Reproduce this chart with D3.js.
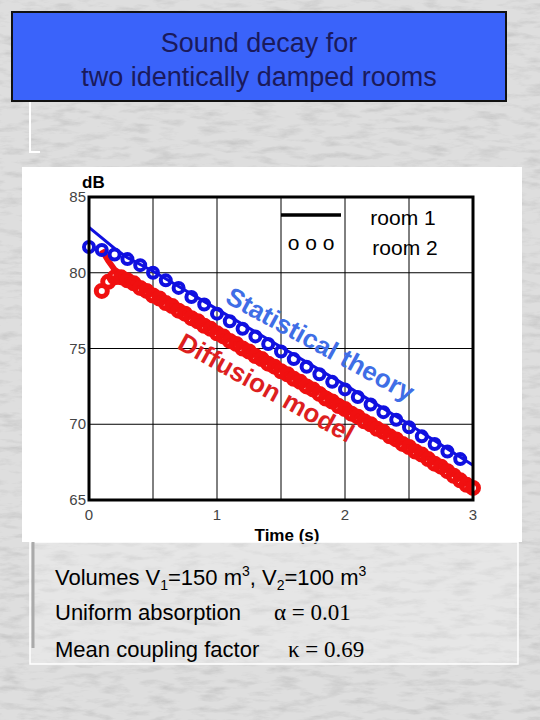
<!DOCTYPE html>
<html><head><meta charset="utf-8">
<script src="https://cdn.jsdelivr.net/npm/d3@7"></script>
<style>body{margin:0;background:#d9d9d9;font-family:Arial,"Liberation Sans",sans-serif}</style>
</head><body><div id="chart"></div>
<script>
// room 1 statistical (blue line), room 2 statistical (blue circles)
const blueLineT = [0, 0.1, 0.2, 0.3, 0.5, 1.0, 1.5, 2.0, 2.5, 3.0];
const blueLineDb = [83.0, 82.3, 81.6, 81.0, 80.1, 77.6, 75.1, 72.6, 70.0, 67.3];
const blueDotT = [0,0.1,0.2,0.3,0.4,0.5,0.6,0.7,0.8,0.9,1.0,1.1,1.2,1.3,1.4,1.5,1.6,1.7,1.8,1.9,2.0,2.1,2.2,2.3,2.4,2.5,2.6,2.7,2.8,2.9];
const blueDotDb = [81.7,81.5,81.2,80.9,80.5,80.0,79.5,79.0,78.4,77.9,77.3,76.8,76.3,75.8,75.3,74.8,74.3,73.8,73.3,72.8,72.3,71.8,71.3,70.8,70.3,69.8,69.2,68.7,68.2,67.7];
// room 1 diffusion (red line), room 2 diffusion (red circles)
const redLineT = [0.1, 0.15, 0.2, 0.3, 0.5, 1.0, 1.5, 2.0, 2.5, 3.0];
const redLineDb = [81.5, 80.8, 80.2, 79.6, 78.7, 76.3, 73.8, 71.3, 68.6, 65.9];
const redDotT = [0.1,0.15,0.2,0.25,0.3,0.35,0.4,0.45,0.5,0.55,0.6,0.65,0.7,0.75,0.8,0.85,0.9,0.95,1.0,1.05,1.1,1.15,1.2,1.25,1.3,1.35,1.4,1.45,1.5,1.55,1.6,1.65,1.7,1.75,1.8,1.85,1.9,1.95,2.0,2.05,2.1,2.15,2.2,2.25,2.3,2.35,2.4,2.45,2.5,2.55,2.6,2.65,2.7,2.75,2.8,2.85,2.9,2.95,3.0];
const redDotDb = [78.8,79.4,79.7,79.7,79.5,79.3,79.0,78.8,78.5,78.3,78.0,77.8,77.5,77.3,77.0,76.8,76.5,76.3,76.0,75.8,75.5,75.3,75.0,74.8,74.5,74.3,74.0,73.8,73.5,73.3,73.0,72.8,72.5,72.3,72.0,71.7,71.5,71.2,71.0,70.7,70.5,70.2,70.0,69.7,69.5,69.2,69.0,68.7,68.5,68.2,68.0,67.7,67.4,67.2,66.9,66.6,66.3,66.0,65.8];
const xTicks = [0, 1, 2, 3];
const yTicks = [65, 70, 75, 80, 85];

const W = 540, H = 720;
const svg = d3.select('#chart').append('svg').attr('width', W).attr('height', H);

// marble-ish background
const defs = svg.append('defs');
const f = defs.append('filter').attr('id', 'marble');
f.append('feTurbulence').attr('type', 'fractalNoise').attr('baseFrequency', '0.04 0.15').attr('numOctaves', 4).attr('seed', 3);
f.append('feColorMatrix').attr('values', '0 0 0 0 0.5  0 0 0 0 0.5  0 0 0 0 0.5  0 0 0 -2 1.1');
svg.append('rect').attr('width', W).attr('height', H).attr('fill', '#dedede');
svg.append('rect').attr('width', W).attr('height', H).attr('filter', 'url(#marble)').attr('opacity', 0.7);

// left decoration
svg.append('path').attr('d', 'M30,101 V152 H40').attr('fill', 'none').attr('stroke', '#fff').attr('stroke-width', 2);

// title
svg.append('rect').attr('x', 12).attr('y', 12).attr('width', 494).attr('height', 89)
  .attr('fill', '#3a63fa').attr('stroke', '#111').attr('stroke-width', 2);
svg.append('text').attr('x', 259).attr('y', 52).attr('text-anchor', 'middle')
  .attr('font-size', 27).attr('fill', '#1a1a5c').text('Sound decay for');
svg.append('text').attr('x', 259).attr('y', 86).attr('text-anchor', 'middle')
  .attr('font-size', 27).attr('fill', '#1a1a5c').text('two identically damped rooms');

// chart panel
svg.append('rect').attr('x', 22).attr('y', 167).attr('width', 500).attr('height', 375).attr('fill', '#fff');

const x = d3.scaleLinear().domain([0, 3]).range([89, 473]);
const y = d3.scaleLinear().domain([65, 85]).range([500, 197]);

const g = svg.append('g');
// grid
g.selectAll('.vg').data(d3.range(0.5, 3, 0.5)).enter().append('line')
  .attr('x1', d => x(d)).attr('x2', d => x(d)).attr('y1', y(65)).attr('y2', y(85))
  .attr('stroke', '#000').attr('stroke-width', 1);
g.selectAll('.hg').data([70, 75, 80]).enter().append('line')
  .attr('y1', d => y(d)).attr('y2', d => y(d)).attr('x1', x(0)).attr('x2', x(3))
  .attr('stroke', '#000').attr('stroke-width', 1);

const line = d3.line().x(d => x(d[0])).y(d => y(d[1]));

// red (diffusion)
g.append('path').datum(d3.zip(redLineT, redLineDb)).attr('d', line)
  .attr('fill', 'none').attr('stroke', '#f01010').attr('stroke-width', 6);
g.selectAll('.rd').data(d3.zip(redDotT, redDotDb)).enter().append('circle')
  .attr('cx', d => x(d[0])).attr('cy', d => y(d[1])).attr('r', 5.5)
  .attr('fill', 'none').attr('stroke', '#f01010').attr('stroke-width', 5);

// blue (statistical)
g.append('path').datum(d3.zip(blueLineT, blueLineDb)).attr('d', line)
  .attr('fill', 'none').attr('stroke', '#1010e0').attr('stroke-width', 3);
g.selectAll('.bd').data(d3.zip(blueDotT, blueDotDb)).enter().append('circle')
  .attr('cx', d => x(d[0])).attr('cy', d => y(d[1])).attr('r', 5)
  .attr('fill', 'none').attr('stroke', '#1010e0').attr('stroke-width', 4);

// frame
g.append('rect').attr('x', x(0)).attr('y', y(85)).attr('width', x(3) - x(0)).attr('height', y(65) - y(85))
  .attr('fill', 'none').attr('stroke', '#000').attr('stroke-width', 3);

// ticks
g.selectAll('.xt').data(xTicks).enter().append('text')
  .attr('x', d => x(d)).attr('y', 520).attr('text-anchor', 'middle')
  .attr('font-size', 15).attr('fill', '#444').text(d => d);
g.selectAll('.yt').data(yTicks).enter().append('text')
  .attr('x', 86).attr('y', d => y(d) + 5).attr('text-anchor', 'end')
  .attr('font-size', 15).attr('fill', '#444').text(d => d);
svg.append('text').attr('x', 82).attr('y', 188).attr('font-size', 17).attr('font-weight', 'bold').text('dB');
svg.append('text').attr('x', 287).attr('y', 541).attr('text-anchor', 'middle')
  .attr('font-size', 17).attr('font-weight', 'bold').text('Time (s)');

// legend
svg.append('line').attr('x1', 281).attr('x2', 341).attr('y1', 215).attr('y2', 215).attr('stroke', '#000').attr('stroke-width', 3.5);
svg.append('text').attr('x', 311).attr('y', 250).attr('text-anchor', 'middle').attr('font-size', 21).text('o o o');
svg.append('text').attr('x', 403).attr('y', 225).attr('text-anchor', 'middle').attr('font-size', 21).text('room 1');
svg.append('text').attr('x', 405).attr('y', 255).attr('text-anchor', 'middle').attr('font-size', 21).text('room 2');

// annotations
svg.append('text').attr('transform', 'translate(224,302) rotate(28.5)')
  .attr('font-size', 26).attr('font-weight', 'bold').attr('fill', '#3f6ee6').text('Statistical theory');
svg.append('text').attr('transform', 'translate(176,348) rotate(29)')
  .attr('font-size', 26).attr('font-weight', 'bold').attr('fill', '#dd1f1f').text('Diffusion model');

// lower text panel
svg.append('rect').attr('x', 30).attr('y', 542).attr('width', 488).attr('height', 122)
  .attr('fill', '#fff').attr('fill-opacity', 0.25).attr('stroke', '#fff').attr('stroke-width', 1.5);
svg.append('line').attr('x1', 33).attr('x2', 33).attr('y1', 542).attr('y2', 648).attr('stroke', '#aaa').attr('stroke-width', 3);

const t1 = svg.append('text').attr('x', 55).attr('y', 585).attr('font-size', 22).attr('fill', '#000');
t1.append('tspan').text('Volumes V');
t1.append('tspan').attr('font-size', 14).attr('dy', 5).text('1');
t1.append('tspan').attr('dy', -5).text('=150 m');
t1.append('tspan').attr('font-size', 14).attr('dy', -9).text('3');
t1.append('tspan').attr('dy', 9).text(', V');
t1.append('tspan').attr('font-size', 14).attr('dy', 5).text('2');
t1.append('tspan').attr('dy', -5).text('=100 m');
t1.append('tspan').attr('font-size', 14).attr('dy', -9).text('3');

const t2 = svg.append('text').attr('x', 55).attr('y', 620).attr('font-size', 22);
t2.append('tspan').text('Uniform absorption');
t2.append('tspan').attr('x', 274).attr('font-family', '"Liberation Serif","DejaVu Serif",serif').attr('font-size', 23).text('α = 0.01');

const t3 = svg.append('text').attr('x', 55).attr('y', 657).attr('font-size', 22);
t3.append('tspan').text('Mean coupling factor');
t3.append('tspan').attr('x', 288).attr('font-family', '"Liberation Serif","DejaVu Serif",serif').attr('font-size', 23).text('κ = 0.69');
</script></body></html>
